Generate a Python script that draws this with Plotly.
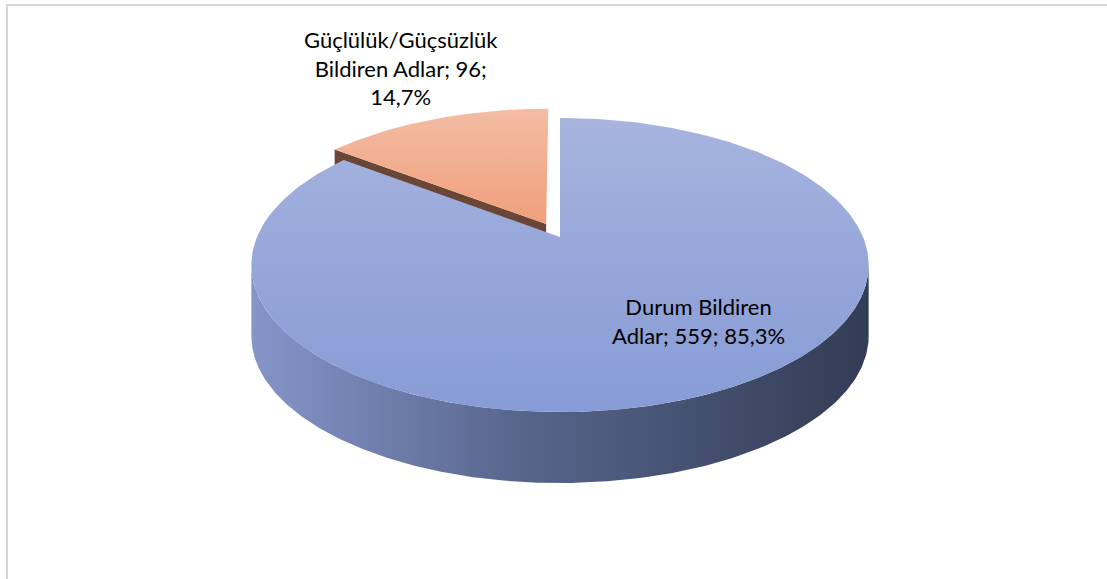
import textwrap
import numpy as np
import plotly.graph_objects as go

# ---- data ----
categories = ["Durum Bildiren Adlar", "Güçlülük/Güçsüzlük Bildiren Adlar"]
counts = [559, 96]
percent_labels = ["85,3%", "14,7%"]

# ---- styling / geometry (not data) ----
W, H = 1107, 579
CX, CY = 560.0, 237.0          # projected centre of the top face
A, B, P = 303.0, 141.7, 0.1905  # perspective ellipse parameters
DEPTH = 71.0
PULL = [0.0, 0.105]
TOP_COLORS = [
    [[0, "#a7b4de"], [0.5, "#95a6d9"], [1, "#879cd6"]],
    [[0, "#f3bca4"], [1, "#f09f7b"]],
]
SIDE_COLORS = [
    [[0, "#8595c9"], [0.45, "#56648a"], [1, "#333c55"]],
    [[0, "#6a4636"], [1, "#5a3a2c"]],
]
LABEL_POS = [(698, 321), (401, 68)]


def proj(X, Y):
    d = 1 + P * Y
    return CX + A * X / d, CY - B * Y / d


total = float(sum(counts))
fracs = [c / total for c in counts]
starts = np.cumsum([0] + fracs[:-1]) * 2 * np.pi
ends = np.cumsum(fracs) * 2 * np.pi

fig = go.Figure()
th_right = np.arccos(-P)
th_left = 2 * np.pi - th_right

cut_traces, top_traces, side_traces = [], [], []
for i, (t0, t1) in enumerate(zip(starts, ends)):
    mid = (t0 + t1) / 2
    dx, dy = PULL[i] * np.sin(mid), PULL[i] * np.cos(mid)
    th = np.linspace(t0, t1, 300)
    rx, ry = proj(np.sin(th) + dx, np.cos(th) + dy)
    ax_, ay_ = proj(dx, dy)
    # top face
    xs = np.concatenate([[ax_], rx, [ax_]])
    ys = np.concatenate([[ay_], ry, [ay_]])
    top_traces.append(go.Scatter(
        x=xs, y=ys, mode="lines", fill="toself", line=dict(width=0),
        fillgradient=dict(type="vertical", colorscale=TOP_COLORS[i],
                          start=float(ys.min()), stop=float(ys.max())),
        hoverinfo="skip", showlegend=False))
    # outer side face (front visible part)
    a0, a1 = max(t0, th_right), min(t1, th_left)
    if a1 > a0:
        ths = np.linspace(a0, a1, 300)
        sx, sy = proj(np.sin(ths) + dx, np.cos(ths) + dy)
        xs2 = np.concatenate([sx, sx[::-1], [sx[0]]])
        ys2 = np.concatenate([sy, sy[::-1] + DEPTH, [sy[0]]])
        side_traces.append(go.Scatter(
            x=xs2, y=ys2, mode="lines", fill="toself", line=dict(width=0),
            fillgradient=dict(type="horizontal", colorscale=SIDE_COLORS[i],
                              start=float(xs2.min()), stop=float(xs2.max())),
            hoverinfo="skip", showlegend=False))
    # radial cut face at start angle (visible for the exploded slice)
    if PULL[i] > 0:
        qx0, qy0 = proj(np.sin(t0) + dx, np.cos(t0) + dy)
        xs3 = [ax_, qx0, qx0, ax_, ax_]
        ys3 = [ay_, qy0, qy0 + DEPTH, ay_ + DEPTH, ay_]
        cut_traces.append(go.Scatter(
            x=xs3, y=ys3, mode="lines", fill="toself", line=dict(width=0),
            fillcolor=SIDE_COLORS[i][0][1],
            hoverinfo="skip", showlegend=False))

# draw order: exploded slice (farther) first, then the main slice
for t in cut_traces:
    fig.add_trace(t)
fig.add_trace(top_traces[1])
for t in side_traces:
    fig.add_trace(t)
fig.add_trace(top_traces[0])

for i, cat in enumerate(categories):
    txt = f"{cat}; {counts[i]}; {percent_labels[i]}"
    lines = textwrap.wrap(txt, width=19)
    fig.add_annotation(
        x=LABEL_POS[i][0], y=LABEL_POS[i][1], xref="x", yref="y",
        text="<br>".join(lines), showarrow=False, align="center",
        font=dict(family="Lato, Carlito, Calibri, sans-serif", size=22, color="#000000"))

fig.add_shape(type="rect", xref="x", yref="y", x0=7, y0=5, x1=W + 50, y1=H + 50,
              line=dict(color="#d6d6d6", width=2), layer="above")

fig.update_layout(
    width=W, height=H, margin=dict(l=0, r=0, t=0, b=0),
    paper_bgcolor="white", plot_bgcolor="white",
    xaxis=dict(range=[0, W], visible=False, fixedrange=True),
    yaxis=dict(range=[H, 0], visible=False, fixedrange=True),
    showlegend=False,
)

fig.write_html("out.html", config={"displayModeBar": False},
               post_script="document.body.style.margin='0';")
